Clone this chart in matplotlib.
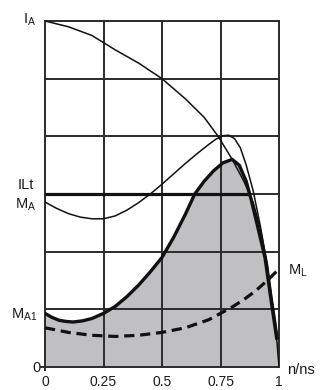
import matplotlib
matplotlib.use("Agg")
import matplotlib.pyplot as plt

plt.rcParams["font.family"] = ["Liberation Sans", "DejaVu Sans"]
plt.rcParams["mathtext.fontset"] = "custom"
plt.rcParams["mathtext.rm"] = "Liberation Sans"
plt.rcParams["mathtext.it"] = "Liberation Sans"

# speed ratio n/ns
speed_ticks = [0, 0.25, 0.5, 0.75, 1]
speed_tick_labels = ["0", "0.25", "0.5", "0.75", "1"]

# motor current I_A
current_n = [0, 0.1, 0.2, 0.3, 0.4, 0.5, 0.6, 0.68, 0.74, 0.8, 0.85, 0.89,
             0.92, 0.95, 0.97, 0.985, 0.995]
current_val = [6.0, 5.9, 5.75, 5.5, 5.27, 5.0, 4.65, 4.33, 4.0, 3.6, 3.22,
               2.85, 2.4, 1.8, 1.2, 0.8, 0.5]

# motor torque M_A (direct start)
torque_n = [0, 0.05, 0.1, 0.15, 0.2, 0.25, 0.3, 0.35, 0.4, 0.45, 0.5, 0.55,
            0.6, 0.65, 0.7, 0.73, 0.76, 0.785, 0.81, 0.835, 0.86, 0.89, 0.92,
            0.95, 0.97, 0.99, 1.0]
torque_val = [2.86, 2.75, 2.66, 2.6, 2.57, 2.57, 2.62, 2.72, 2.85, 3.0, 3.17,
              3.35, 3.53, 3.7, 3.86, 3.95, 4.01, 4.02, 3.96, 3.8, 3.5, 3.05,
              2.45, 1.75, 1.1, 0.5, 0.0]

# reduced torque M_A1
reduced_n = [0, 0.03, 0.06, 0.09, 0.12, 0.16, 0.2, 0.25, 0.3, 0.35, 0.4, 0.45,
             0.5, 0.55, 0.6, 0.64, 0.68, 0.72, 0.76, 0.8, 0.83, 0.86, 0.88,
             0.905, 0.94, 0.97, 0.99]
reduced_val = [0.93, 0.86, 0.81, 0.79, 0.78, 0.8, 0.84, 0.93, 1.05, 1.22, 1.42,
               1.65, 1.9, 2.25, 2.65, 3.0, 3.22, 3.4, 3.54, 3.6, 3.5, 3.22,
               2.92, 2.5, 1.9, 1.05, 0.5]

# load torque M_L
load_n = [0, 0.1, 0.2, 0.3, 0.4, 0.5, 0.6, 0.7, 0.75, 0.8, 0.85, 0.9, 0.95, 1.0]
load_val = [0.68, 0.6, 0.55, 0.53, 0.55, 0.6, 0.68, 0.82, 0.93, 1.04, 1.17,
            1.32, 1.5, 1.7]

# current limit ILt
limit_level = 3.0
limit_end = 0.875

W, H = 320, 390
fig = plt.figure(figsize=(W / 100, H / 100), dpi=100)
ax = fig.add_axes([45 / W, 1 - 367 / H, 234 / W, 346 / H])
ax.set_xlim(0, 1)
ax.set_ylim(0, 6)
ax.axis("off")

grid_color = "#2b2b2b"
fill_n = reduced_n + [1.0]
fill_v = reduced_val + [0.0]
ax.fill_between(fill_n, 0, fill_v, color="#c0c0c3", lw=0, zorder=1)

for x in speed_ticks:
    ax.axvline(x, color=grid_color, lw=1.4, zorder=2, clip_on=False)
for y in range(0, 7):
    ax.axhline(y, color=grid_color, lw=1.4, zorder=2, clip_on=False)

# small axis extensions at the origin
ax.plot([0, 0], [0, -0.06], color=grid_color, lw=1.4, clip_on=False, zorder=2)
ax.plot([0, -0.015], [0, 0], color=grid_color, lw=1.4, clip_on=False, zorder=2)

ax.plot([0, limit_end], [limit_level, limit_level], color="#111111", lw=2.3,
        zorder=3, solid_capstyle="butt")
ax.plot(current_n, current_val, color="#111111", lw=1.1, zorder=4)
ax.plot(torque_n, torque_val, color="#111111", lw=1.1, zorder=4)
ax.plot(reduced_n, reduced_val, color="#111111", lw=2.4, zorder=5)
ax.plot(load_n, load_val, color="#111111", lw=2.3, zorder=5,
        dashes=(3.2, 1.8), clip_on=False)


def px_text(x, y, s, ha="center", va="center", size=10.5):
    fig.text(x / W, 1 - y / H, s, ha=ha, va=va, fontsize=size,
             color="#1a1a1a")


px_text(36, 20, r"$\mathrm{I_A}$", ha="right")
px_text(34, 185, "ILt", ha="right")
px_text(36, 205, r"$\mathrm{M_A}$", ha="right")
px_text(37, 315, r"$\mathrm{M_{A1}}$", ha="right")
px_text(41, 368, "0", ha="right")
px_text(288, 271, r"$\mathrm{M_L}$", ha="left")
px_text(287, 370, "n/ns", ha="left")

for x, lab in zip(speed_ticks, speed_tick_labels):
    px = 45 + x * 234
    fig.text(px / W, 1.5 / H, lab, ha="center", va="bottom", fontsize=10,
             color="#1a1a1a")

fig.savefig("out.png", dpi=100)
